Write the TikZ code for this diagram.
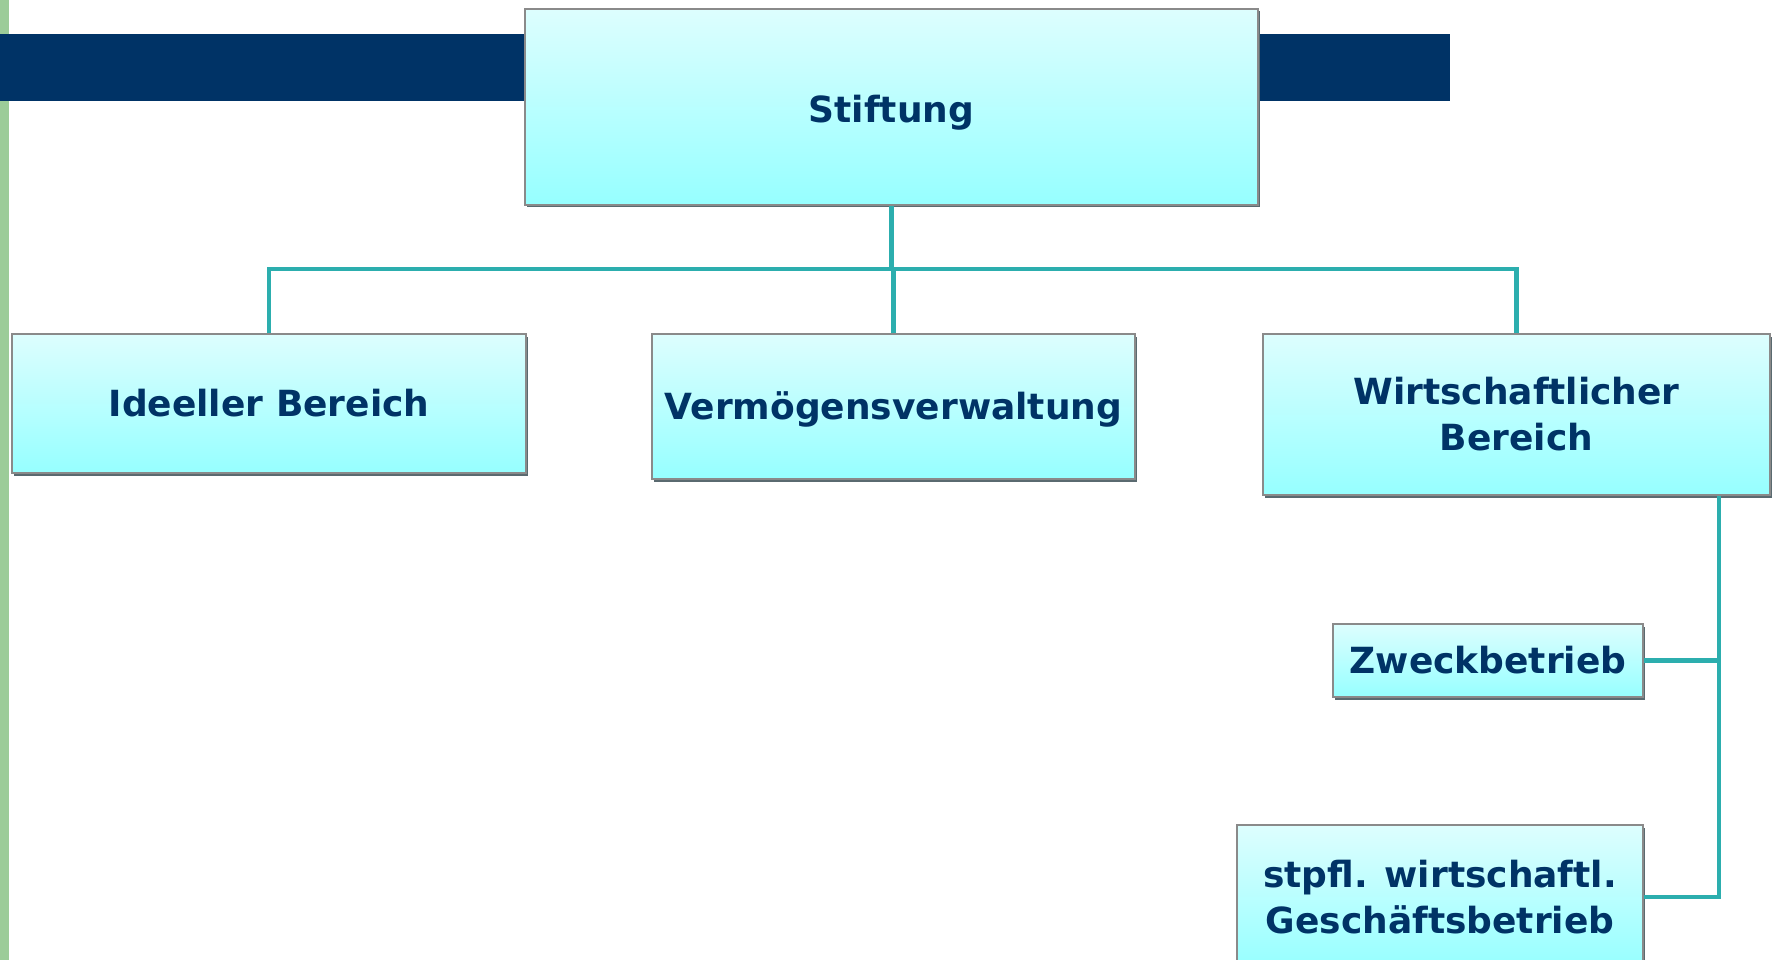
\documentclass[tikz,border=0pt]{standalone}
\usepackage{fontspec}
\setmainfont{DejaVu Sans}
\usetikzlibrary{shadows}
\definecolor{navy}{HTML}{003366}
\definecolor{stripgreen}{HTML}{9CCC99}
\definecolor{teal2}{HTML}{2CAEAE}
\definecolor{boxtop}{HTML}{DDFEFE}
\definecolor{boxbot}{HTML}{96FFFF}
\definecolor{boxline}{HTML}{8A8A8A}
\definecolor{shadowc}{HTML}{5A6A70}
\begin{document}
\begin{tikzpicture}[x=1pt,y=-1pt,
  box/.style={rectangle, draw=boxline, line width=1.2pt, top color=boxtop, bottom color=boxbot,
    text=navy, font=\fontsize{36}{46}\selectfont\bfseries, align=center, inner sep=0pt,
    drop shadow={shadow xshift=2pt, shadow yshift=-2.5pt, opacity=1, fill=shadowc}},
  conn/.style={draw=teal2, line width=4.5pt}]
\useasboundingbox (0,0) rectangle (1773,960);
\clip (0,0) rectangle (1773,960);
\fill[white] (0,0) rectangle (1773,960);
\fill[stripgreen] (0,0) rectangle (9,960);
\fill[navy] (0,34) rectangle (1450,101);
% nodes
\node[box, minimum width=733pt, minimum height=196pt, text height=40pt, text depth=8pt] (stift) at (891.5,107) {Stiftung};
\node[box, minimum width=514pt, minimum height=139pt] (ideel) at (269,403.5) {Ideeller Bereich};
\node[box, minimum width=483pt, minimum height=145pt, text height=34pt, text depth=8pt] (verm) at (893.5,406.5) {Vermögensverwaltung};
\node[box, minimum width=507pt, minimum height=161pt] (wirt) at (1516.5,414.5) {Wirtschaftlicher\\Bereich};
\node[box, minimum width=310pt, minimum height=73pt] (zweck) at (1488,660.5) {Zweckbetrieb};
\node[box, minimum width=406pt, minimum height=144pt] (gesch) at (1440,897) {stpfl. wirtschaftl.\\Geschäftsbetrieb};
% connectors
\coordinate (bus) at (892,269);
\coordinate (rv) at (1719,896);
\draw[conn] (stift.south) -- (stift.south |- bus);
\draw[conn] (ideel.north) |- (bus) -| (wirt.north);
\draw[conn] (verm.north) -- (verm.north |- bus);
\draw[conn] (gesch.east) -| (rv |- wirt.south);
\draw[conn] (zweck.east) -- (zweck.east -| rv);
\end{tikzpicture}
\end{document}
